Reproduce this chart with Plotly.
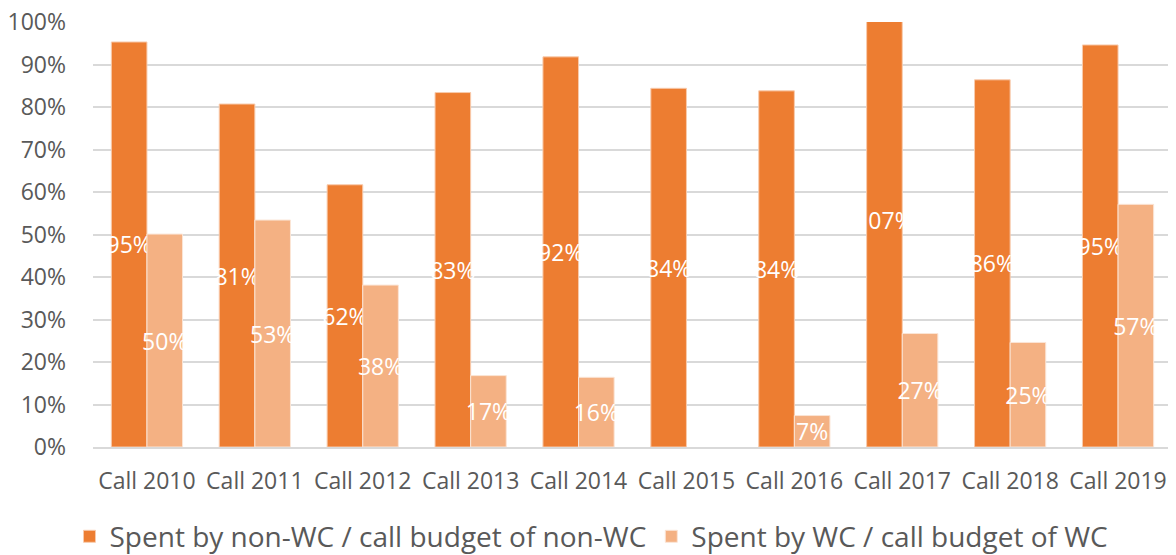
import plotly.graph_objects as go

calls = ["Call 2010", "Call 2011", "Call 2012", "Call 2013", "Call 2014",
         "Call 2015", "Call 2016", "Call 2017", "Call 2018", "Call 2019"]

# share of call budget spent
non_wc = [0.953, 0.807, 0.617, 0.834, 0.918, 0.844, 0.838, 1.07, 0.864, 0.946]
wc = [0.501, 0.534, 0.381, 0.168, 0.164, None, 0.074, 0.267, 0.246, 0.571]

tick_vals = [0, 0.1, 0.2, 0.3, 0.4, 0.5, 0.6, 0.7, 0.8, 0.9, 1.0]

font_family = "Open Sans, Noto Sans, sans-serif"
grey = "#595959"


def pct_labels(values):
    return [f"{v * 100:.0f}%" if v is not None else "" for v in values]


fig = go.Figure()

fig.add_trace(go.Bar(
    x=calls, y=non_wc,
    name="Spent by non-WC / call budget of non-WC",
    marker=dict(color="#ED7D31", line=dict(color="#F8CBAD", width=1)),
    text=pct_labels(non_wc),
    textposition="inside", insidetextanchor="middle",
    textangle=0, constraintext="none",
    textfont=dict(color="white", size=23, family=font_family),
))

fig.add_trace(go.Bar(
    x=calls, y=wc,
    name="Spent by WC / call budget of WC",
    marker=dict(color="#F4B183", line=dict(color="#FBE5D6", width=1)),
    text=pct_labels(wc),
    textposition="inside", insidetextanchor="middle",
    textangle=0, constraintext="none",
    textfont=dict(color="white", size=23, family=font_family),
))

# page body has an 8px margin, so the figure is 8px smaller than the window
fig.update_layout(
    width=1168, height=547,
    margin=dict(l=85, r=4, t=14, b=108, autoexpand=False),
    paper_bgcolor="white", plot_bgcolor="white",
    barmode="group", bargap=0.34, bargroupgap=0,
    font=dict(family=font_family, color=grey),
    showlegend=True,
    legend=dict(
        orientation="h", x=0.462, xanchor="center", y=-0.152, yanchor="top",
        font=dict(size=28, color=grey),
    ),
    xaxis=dict(
        tickfont=dict(size=23, color=grey),
        showgrid=False, showline=True, linecolor="#d9d9d9", linewidth=2,
        ticks="", ticklabelstandoff=12,
    ),
    yaxis=dict(
        range=[0, 1.0], tickvals=tick_vals, tickformat=".0%",
        tickfont=dict(size=23, color=grey),
        showgrid=True, gridcolor="#d9d9d9", gridwidth=2,
        zeroline=False, showline=False, ticks="", ticklabelstandoff=26,
        ticklabeloverflow="allow",
    ),
)

fig.write_html("out.html")
